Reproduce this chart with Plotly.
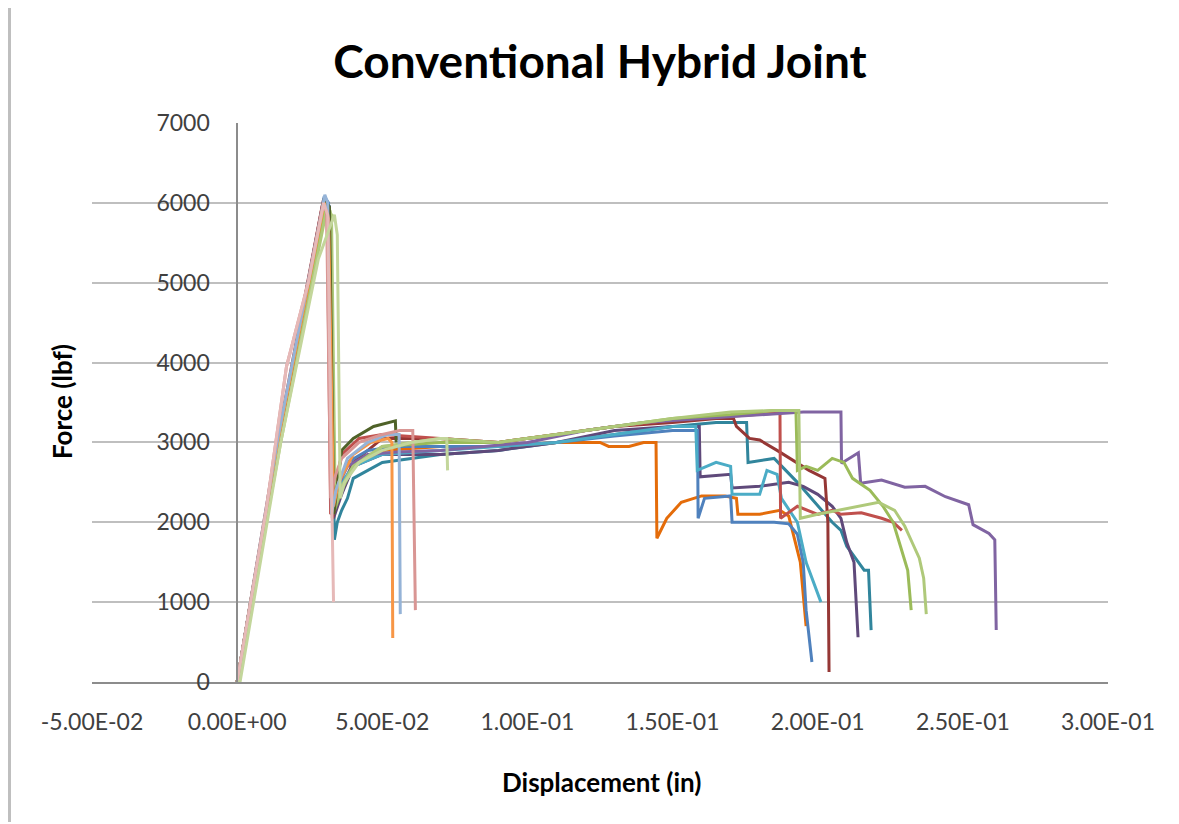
import plotly.graph_objects as go

# ---------------- data ----------------
# displacement (in) / force (lbf) for each specimen curve
blue_x = [0, 0.014, 0.0300, 0.0315, 0.0330, 0.0345, 0.038, 0.045, 0.055, 0.07, 0.09, 0.11, 0.13, 0.15, 0.1586, 0.1588, 0.161, 0.170, 0.1705, 0.185, 0.190, 0.193, 0.195, 0.196, 0.198]
blue_y = [0, 3000, 6080, 6000, 2200, 2450, 2750, 2900, 2950, 2950, 2950, 3000, 3080, 3150, 3150, 2050, 2300, 2330, 2000, 2000, 1980, 1850, 1500, 900, 250]

red_x = [0, 0.014, 0.0295, 0.0310, 0.0322, 0.0330, 0.036, 0.042, 0.05, 0.07, 0.09, 0.11, 0.13, 0.15, 0.17, 0.1870, 0.1872, 0.193, 0.200, 0.205, 0.208, 0.215, 0.222, 0.226, 0.229]
red_y = [0, 3050, 6000, 5900, 2100, 2300, 2850, 3050, 3100, 3050, 3000, 3100, 3200, 3280, 3330, 3370, 2050, 2200, 2100, 2150, 2100, 2120, 2050, 2000, 1900]

green_x = [0, 0.014, 0.0305, 0.032, 0.0335, 0.036, 0.04, 0.05, 0.07, 0.09, 0.11, 0.13, 0.15, 0.17, 0.185, 0.1925, 0.1930, 0.196, 0.200, 0.205, 0.209, 0.212, 0.218, 0.2225, 0.226, 0.2285, 0.231, 0.2322]
green_y = [0, 3000, 6000, 5900, 2150, 2400, 2700, 2950, 3000, 3000, 3100, 3200, 3300, 3350, 3400, 3400, 2650, 2700, 2650, 2800, 2750, 2550, 2400, 2200, 2000, 1700, 1400, 900]

purple_x = [0, 0.014, 0.0300, 0.0318, 0.0332, 0.034, 0.038, 0.045, 0.055, 0.07, 0.085, 0.10, 0.12, 0.14, 0.16, 0.18, 0.195, 0.2080, 0.2082, 0.214, 0.2148, 0.222, 0.230, 0.237, 0.244, 0.252, 0.2535, 0.259, 0.261, 0.2615]
purple_y = [0, 2950, 6020, 5950, 2100, 2400, 2700, 2850, 2880, 2900, 2950, 3000, 3150, 3250, 3300, 3350, 3380, 3380, 2740, 2870, 2490, 2530, 2440, 2450, 2320, 2220, 1970, 1860, 1780, 650]

aqua_x = [0, 0.014, 0.0302, 0.0318, 0.0335, 0.036, 0.04, 0.05, 0.07, 0.09, 0.11, 0.13, 0.15, 0.158, 0.1585, 0.165, 0.170, 0.1705, 0.180, 0.1825, 0.186, 0.1875, 0.193, 0.196, 0.199, 0.2011]
aqua_y = [0, 3000, 6050, 5950, 2300, 2500, 2700, 2850, 2900, 2950, 3000, 3100, 3200, 3200, 2650, 2750, 2700, 2350, 2350, 2650, 2600, 2300, 2000, 1500, 1200, 1000]

orange_x = [0, 0.014, 0.0300, 0.0315, 0.0332, 0.035, 0.04, 0.046, 0.052, 0.0533, 0.0536]
orange_y = [0, 3000, 6000, 5800, 2200, 2500, 2850, 3000, 3050, 3000, 550]

darkorange_x = [0, 0.014, 0.0300, 0.0318, 0.0335, 0.036, 0.04, 0.05, 0.07, 0.09, 0.11, 0.125, 0.128, 0.135, 0.140, 0.1443, 0.1446, 0.148, 0.153, 0.160, 0.168, 0.172, 0.1725, 0.180, 0.187, 0.190, 0.194, 0.196]
darkorange_y = [0, 3000, 6000, 5900, 2200, 2450, 2700, 2900, 2950, 2950, 3000, 3000, 2950, 2950, 3000, 3000, 1800, 2050, 2250, 2330, 2330, 2300, 2100, 2100, 2150, 2080, 1500, 700]

darkred_x = [0, 0.014, 0.0298, 0.0315, 0.0328, 0.035, 0.04, 0.05, 0.07, 0.09, 0.11, 0.13, 0.15, 0.165, 0.171, 0.172, 0.1765, 0.180, 0.186, 0.193, 0.197, 0.2025, 0.2035, 0.2039]
darkred_y = [0, 3000, 6050, 5950, 2050, 2350, 2750, 3050, 3050, 3000, 3100, 3200, 3250, 3300, 3300, 3200, 3050, 3030, 2900, 2740, 2650, 2550, 2000, 125]

olive_x = [0, 0.014, 0.0300, 0.0318, 0.0333, 0.036, 0.04, 0.047, 0.0545, 0.0548]
olive_y = [0, 3000, 6050, 5950, 2100, 2900, 3050, 3200, 3270, 3000]

lightblue_x = [0, 0.014, 0.0302, 0.0312, 0.0325, 0.034, 0.038, 0.045, 0.052, 0.0558, 0.0562]
lightblue_y = [0, 3050, 6100, 6000, 2100, 2400, 2800, 3000, 3100, 3100, 850]

pink_x = [0, 0.010, 0.017, 0.0245, 0.0295, 0.0308, 0.0322, 0.0335, 0.036, 0.042, 0.050, 0.056, 0.0605, 0.0612, 0.0614]
pink_y = [0, 2150, 3950, 5000, 5950, 5900, 2300, 2550, 2800, 3000, 3100, 3150, 3150, 1400, 900]

lightpink_x = [0, 0.010, 0.017, 0.0245, 0.0298, 0.0312, 0.0326, 0.0330, 0.0332]
lightpink_y = [0, 2150, 3950, 5000, 6000, 5850, 2300, 1680, 1000]

lightgreen_x = [0, 0.001, 0.015, 0.028, 0.0335, 0.0345, 0.0355, 0.037, 0.042, 0.050, 0.060, 0.070, 0.0722, 0.0725]
lightgreen_y = [0, 0, 3000, 5300, 5850, 5600, 2300, 2500, 2750, 2900, 3000, 3050, 3050, 2650]

lime_x = [0, 0.015, 0.031, 0.0325, 0.0338, 0.036, 0.04, 0.05, 0.07, 0.09, 0.11, 0.13, 0.15, 0.17, 0.185, 0.1935, 0.1940, 0.200, 0.207, 0.214, 0.221, 0.2265, 0.230, 0.2325, 0.235, 0.2365, 0.2374]
lime_y = [0, 3000, 5950, 5850, 2200, 2450, 2700, 2950, 3050, 3000, 3100, 3200, 3300, 3380, 3400, 3400, 2050, 2100, 2150, 2200, 2250, 2150, 1950, 1750, 1550, 1300, 850]

darkpurple_x = [0, 0.014, 0.0302, 0.0318, 0.0332, 0.036, 0.04, 0.05, 0.07, 0.09, 0.11, 0.13, 0.15, 0.1592, 0.1595, 0.170, 0.1705, 0.180, 0.190, 0.195, 0.200, 0.205, 0.208, 0.210, 0.2125, 0.2139]
darkpurple_y = [0, 3000, 6050, 5950, 2050, 2350, 2700, 2850, 2850, 2900, 3000, 3150, 3200, 3200, 2570, 2600, 2430, 2450, 2500, 2450, 2350, 2200, 2050, 1750, 1500, 560]

teal_x = [0, 0.014, 0.0302, 0.0318, 0.0335, 0.0345, 0.036, 0.038, 0.04, 0.045, 0.05, 0.07, 0.09, 0.11, 0.13, 0.15, 0.165, 0.1755, 0.1760, 0.185, 0.193, 0.200, 0.205, 0.208, 0.210, 0.213, 0.216, 0.2175, 0.2184]
teal_y = [0, 2950, 6000, 5900, 1780, 2000, 2150, 2300, 2550, 2650, 2750, 2850, 2900, 3000, 3100, 3200, 3250, 3250, 2750, 2800, 2500, 2200, 2000, 1900, 1700, 1550, 1400, 1400, 650]

x_tick_vals = [-0.05, 0.0, 0.05, 0.10, 0.15, 0.20, 0.25, 0.30]
x_tick_text = ["-5.00E-02", "0.00E+00", "5.00E-02", "1.00E-01", "1.50E-01", "2.00E-01", "2.50E-01", "3.00E-01"]
y_tick_vals = [0, 1000, 2000, 3000, 4000, 5000, 6000, 7000]

# ---------------- styling ----------------
series = [
    (teal_x, teal_y, "#31859C"),
    (darkpurple_x, darkpurple_y, "#5F497A"),
    (darkred_x, darkred_y, "#953735"),
    (darkorange_x, darkorange_y, "#E46C0A"),
    (blue_x, blue_y, "#4F81BD"),
    (aqua_x, aqua_y, "#4BACC6"),
    (red_x, red_y, "#C0504D"),
    (purple_x, purple_y, "#8064A2"),
    (green_x, green_y, "#9BBB59"),
    (lime_x, lime_y, "#AFC97A"),
    (olive_x, olive_y, "#4F6228"),
    (orange_x, orange_y, "#F79646"),
    (lightblue_x, lightblue_y, "#95B3D7"),
    (pink_x, pink_y, "#D99694"),
    (lightpink_x, lightpink_y, "#E6B9B8"),
    (lightgreen_x, lightgreen_y, "#C3D69B"),
]

FONT = "Lato"
TEXT = "#404040"

# page has an 8px body margin; figure is sized so it fits the 1179x824 window
W, H = 1171, 816
L, T = 84, 115          # plot area: page x 92..1108, page y 123..682
PW, PH = 1016, 559

fig = go.Figure()
for xs, ys, col in series:
    fig.add_trace(go.Scatter(x=xs, y=ys, mode="lines",
                             line=dict(color=col, width=3),
                             showlegend=False, hoverinfo="skip"))

fig.update_layout(
    width=W, height=H,
    margin=dict(l=L, r=W - L - PW, t=T, b=H - T - PH, autoexpand=False),
    paper_bgcolor="white", plot_bgcolor="white",
    showlegend=False,
    title=dict(text="<b>Conventional Hybrid Joint</b>", x=0.5, xref="paper",
               y=1 - 54 / H, yref="container", xanchor="center", yanchor="middle",
               font=dict(family=FONT, size=46, color="black")),
    xaxis=dict(range=[-0.05, 0.30], tickmode="array", tickvals=x_tick_vals, ticktext=x_tick_text,
               showgrid=False, zeroline=False, showline=True, linecolor="#8C8C8C", linewidth=1.5,
               ticks="", ticklabelstandoff=19,
               tickfont=dict(family=FONT, size=23, color=TEXT), automargin=False),
    yaxis=dict(range=[0, 7000], tickmode="array", tickvals=y_tick_vals,
               anchor="free", position=0.05 / 0.35,
               showgrid=True, gridcolor="#BFBFBF", gridwidth=2,
               zeroline=False, showline=True, linecolor="#8C8C8C", linewidth=1.5,
               ticks="", ticklabelstandoff=22,
               tickfont=dict(family=FONT, size=23, color=TEXT), automargin=False),
    annotations=[
        dict(text="<b>Displacement (in)</b>", x=(601 - 92) / PW, y=(682 - 782) / PH,
             xref="paper", yref="paper", xanchor="center", yanchor="middle", showarrow=False,
             font=dict(family=FONT, size=26, color="black")),
        dict(text="<b>Force (lbf)</b>", x=(62 - 92) / PW, y=(682 - 402) / PH,
             xref="paper", yref="paper", xanchor="center", yanchor="middle", showarrow=False,
             textangle=-90, font=dict(family=FONT, size=26, color="black")),
    ],
    shapes=[
        dict(type="line", xref="paper", yref="paper", x0=(1.5 - L) / PW, x1=(1.5 - L) / PW,
             y0=-(H - T - PH - 2) / PH, y1=(T + PH) / PH, line=dict(color="#BFBFBF", width=3)),
    ],
)

fig.write_html("out.html")
